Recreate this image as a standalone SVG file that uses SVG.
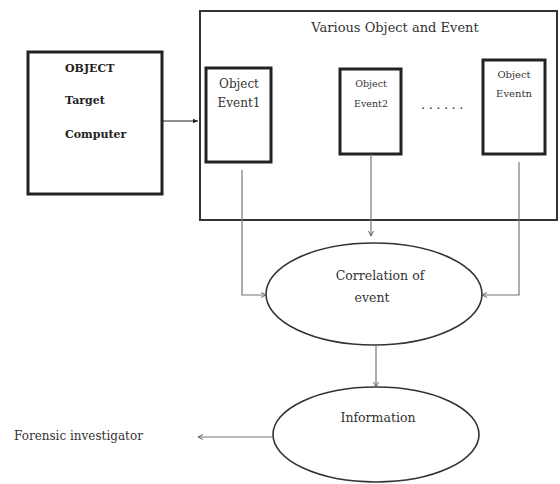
<svg xmlns="http://www.w3.org/2000/svg" width="560" height="484" viewBox="0 0 560 484">
<style>
.box{fill:#fff;stroke:#222;stroke-width:3}
.big{fill:#fff;stroke:#333;stroke-width:2}
.ell{fill:#fff;stroke:#333;stroke-width:1.6}
text{font-family:"DejaVu Serif","Liberation Serif",serif;fill:#333}
.b{font-weight:bold;font-size:11px;fill:#222}
.c{stroke:#777;stroke-width:1.2;fill:none}
</style>
<defs>
<marker id="ah" viewBox="0 0 8 8" refX="7" refY="4" markerWidth="6" markerHeight="6" orient="auto" markerUnits="userSpaceOnUse">
<path d="M0,0.5 L7,4 L0,7.5" fill="none" stroke="#555" stroke-width="1.2"/>
</marker>
<marker id="af" viewBox="0 0 8 8" refX="7" refY="4" markerWidth="6" markerHeight="6" orient="auto" markerUnits="userSpaceOnUse">
<path d="M0,1 L7,4 L0,7 Z" fill="#222"/>
</marker>
</defs>
<g id="container">
<rect class="big" x="200" y="11" width="357" height="209"/>
<text x="395" y="32" font-size="13" text-anchor="middle">Various Object and Event</text>
</g>
<g id="object">
<rect class="box" x="28" y="52" width="134" height="142"/>
<text class="b" x="65" y="72">OBJECT</text>
<text class="b" x="65" y="104">Target</text>
<text class="b" x="65" y="138">Computer</text>
</g>
<g id="event1">
<rect class="box" x="206" y="68" width="65" height="94"/>
<text x="239" y="88" font-size="12" text-anchor="middle">Object</text>
<text x="239" y="107" font-size="12" text-anchor="middle">Event1</text>
</g>
<g id="event2">
<rect class="box" x="340" y="69" width="61" height="85"/>
<text x="371" y="87" font-size="9.5" text-anchor="middle">Object</text>
<text x="371" y="107" font-size="9.5" text-anchor="middle">Event2</text>
</g>
<g id="dots">
<text x="421" y="109" font-size="13" letter-spacing="3.5">......</text>
</g>
<g id="eventn">
<rect class="box" x="483" y="60" width="62" height="94"/>
<text x="514" y="78" font-size="10" text-anchor="middle">Object</text>
<text x="514" y="97" font-size="10" text-anchor="middle">Eventn</text>
</g>
<g id="correlation">
<ellipse class="ell" cx="374" cy="294" rx="108" ry="51"/>
<text x="380" y="280" font-size="12.5" text-anchor="middle">Correlation of</text>
<text x="372" y="302" font-size="12.5" text-anchor="middle">event</text>
</g>
<g id="information">
<ellipse class="ell" cx="376" cy="434.5" rx="103" ry="47.5"/>
<text x="378" y="422" font-size="12.5" text-anchor="middle">Information</text>
</g>
<g id="forensic">
<text x="14" y="440" font-size="12">Forensic investigator</text>
</g>
<g id="connectors">
<path d="M162,121 H198" stroke="#222" stroke-width="1.2" fill="none" marker-end="url(#af)"/>
<path class="c" d="M242,170 V295 H266" marker-end="url(#ah)"/>
<path class="c" d="M371,154 V236" marker-end="url(#ah)"/>
<path class="c" d="M519,162 V295 H482" marker-end="url(#ah)"/>
<path class="c" d="M376,345 V387" marker-end="url(#ah)"/>
<path class="c" d="M273,437 H198" marker-end="url(#ah)"/>
</g>
</svg>
